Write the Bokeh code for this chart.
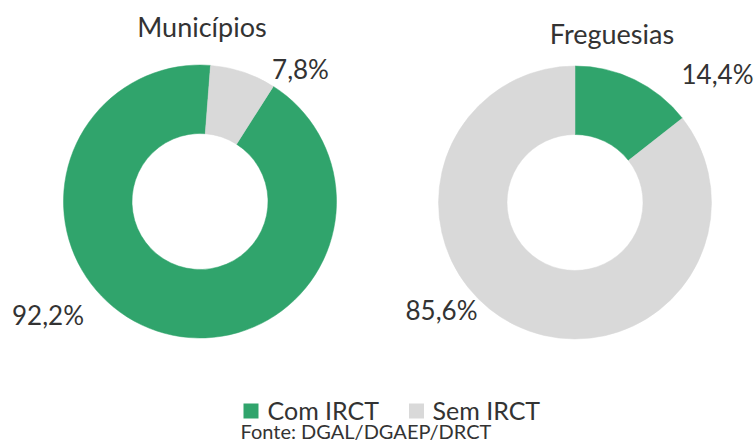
import numpy as np
from bokeh.plotting import figure
from bokeh.models import ColumnDataSource, Range1d
from bokeh.embed import file_html
from bokeh.resources import INLINE
from bokeh.core.properties import value

# ---- data ----
categories = ["Com IRCT", "Sem IRCT"]
municipios = [92.2, 7.8]
freguesias = [14.4, 85.6]
titles = ["Municípios", "Freguesias"]
source_note = "Fonte: DGAL/DGAEP/DRCT"
colors = ["#30A46C", "#D9D9D9"]

FONT = "Lato"
TXT = "#333333"
W, H = 755, 444
DY = 9  # baseline correction for text rendering

p = figure(width=W, height=H, x_range=Range1d(0, W), y_range=Range1d(0, H),
           output_backend="svg", toolbar_location=None,
           x_axis_type=None, y_axis_type=None, min_border=0,
           outline_line_color=None, background_fill_color="white",
           border_fill_color="white")
p.grid.visible = False


def X(ix):
    return ix


def Y(iy):
    return H - iy


def TY(iy):
    return H - (iy - DY)


charts = [
    dict(vals=municipios, cx=199.5, cy=201, rot=32.5, title=titles[0],
         tpos=(201.5, 35), lpos=[(47.5, 323), (300, 77)]),
    dict(vals=freguesias, cx=574.5, cy=202, rot=0.0, title=titles[1],
         tpos=(611.5, 42), lpos=[(717, 82), (441, 318)]),
]

for ch in charts:
    vals = np.array(ch["vals"], dtype=float)
    frac = vals / vals.sum()
    cum = np.concatenate([[0], np.cumsum(frac)])
    rot = np.deg2rad(ch["rot"])
    start = np.pi / 2 - rot - 2 * np.pi * cum[:-1]
    end = np.pi / 2 - rot - 2 * np.pi * cum[1:]
    src = ColumnDataSource(dict(
        x=[X(ch["cx"])] * len(vals), y=[Y(ch["cy"])] * len(vals),
        start=list(start), end=list(end), color=colors,
        cat=categories, val=list(vals)))
    p.annular_wedge(x="x", y="y", inner_radius=68, outer_radius=136.5,
                    start_angle="start", end_angle="end", direction="clock",
                    fill_color="color", line_color="color", line_width=0.5,
                    source=src)
    labels = [f"{v:.1f}%".replace(".", ",") for v in vals]
    lsrc = ColumnDataSource(dict(
        x=[X(a) for a, b in ch["lpos"]], y=[TY(b) for a, b in ch["lpos"]],
        t=labels))
    p.text(x="x", y="y", text="t", source=lsrc, text_font=value(FONT),
           text_font_size="26px", text_color=TXT, text_align="center",
           text_baseline="alphabetic")
    p.text(x=[X(ch["tpos"][0])], y=[TY(ch["tpos"][1])], text=[ch["title"]],
           text_font=value(FONT), text_font_size="27px", text_color=TXT,
           text_align="center", text_baseline="alphabetic")

# ---- legend ----
sq_x = [250.5, 416]
tx_x = [267, 432]
p.rect(x=[X(v) for v in sq_x], y=[Y(410.5)] * 2, width=15, height=15,
       fill_color=colors, line_color=None)
p.text(x=[X(v) for v in tx_x], y=[TY(418)] * 2, text=categories,
       text_font=value(FONT), text_font_size="25px", text_color=TXT,
       text_align="left", text_baseline="alphabetic")

p.text(x=[X(240)], y=[TY(439)], text=[source_note], text_font=value(FONT),
       text_font_size="20px", text_color=TXT, text_align="left",
       text_baseline="alphabetic")

open("out.html", "w").write(file_html(p, INLINE))
